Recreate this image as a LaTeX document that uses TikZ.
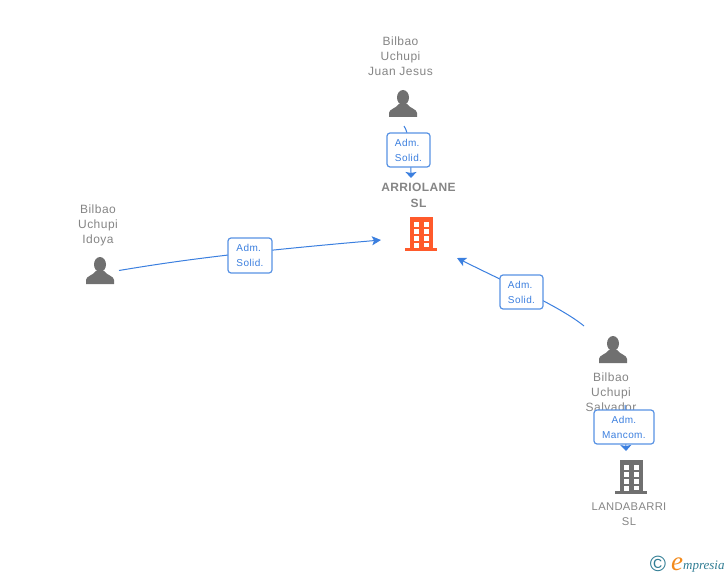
\documentclass[tikz,border=0pt]{standalone}
\usepackage{fontspec}
\setmainfont{Liberation Sans}
\newfontfamily\logofont{Liberation Serif}
\usetikzlibrary{arrows.meta,calc}
\definecolor{linkblue}{HTML}{3B7FDF}
\definecolor{namegray}{HTML}{858585}
\definecolor{icongray}{HTML}{707070}
\definecolor{iconorange}{HTML}{FF5A2B}
\definecolor{logoteal}{HTML}{2F7C93}
\definecolor{logoorange}{HTML}{F28A1C}
\tikzset{
    nametext/.style={text=namegray, font=\fontsize{12}{15}\selectfont\addfontfeatures{LetterSpace=4}, align=center, inner sep=0pt},
    firmtext/.style={nametext, font=\fontsize{12}{16}\selectfont\bfseries\addfontfeatures{LetterSpace=3}},
    rolebox/.style={draw=linkblue!85, fill=white, line width=1.2pt, rounded corners=3pt, text=linkblue,
        font=\fontsize{10}{15}\selectfont\addfontfeatures{LetterSpace=4}, inner sep=0pt},
    link/.style={draw=linkblue, line width=1pt, -{Stealth[length=9pt,width=9pt,inset=2pt]}},
    flatlink/.style={link, -{Stealth[length=6pt,width=11pt,inset=1pt]}},
    iconspot/.style={circle, inner sep=0pt, minimum size=#1}
}
\newcommand{\persona}[1]{
    \fill[icongray] ($(#1)+(0,-6.5)$) ellipse (6 and 7.5);
    \fill[icongray] ($(#1)+(-14,13)$) -- ($(#1)+(-14,9)$) .. controls ($(#1)+(-14,5)$) and ($(#1)+(-7,4.5)$) .. ($(#1)+(-4,0)$) -- ($(#1)+(4,0)$) .. controls ($(#1)+(7,4.5)$) and ($(#1)+(14,5)$) .. ($(#1)+(14,9)$) -- ($(#1)+(14,13)$) -- cycle;
}
\newcommand{\edificio}[2]{
    \fill[#2] ($(#1)+(-11,-17)$) rectangle ($(#1)+(12,14)$);
    \fill[#2] ($(#1)+(-16,14)$) rectangle ($(#1)+(16,17)$);
    \foreach \wy in {-12,-5,2} {
        \fill[white] ($(#1)+(-7,\wy)$) rectangle ($(#1)+(-2.5,\wy+4.6)$);
        \fill[white] ($(#1)+(2.5,\wy)$) rectangle ($(#1)+(7.5,\wy+4.6)$);
    }
    \fill[white] ($(#1)+(-7,8.5)$) rectangle ($(#1)+(-2.5,14)$);
    \fill[white] ($(#1)+(2.5,8.5)$) rectangle ($(#1)+(7.5,12.5)$);
}
\begin{document}
\begin{tikzpicture}[x=1pt,y=-1pt]
    \useasboundingbox (0,0) rectangle (728,575);
    % icons
    \node[iconspot=38pt] (idoya) at (100,271) {};
    \node[iconspot=38pt] (juan) at (403,104) {};
    \node[iconspot=38pt] (salvador) at (613,350) {};
    \node[iconspot=64pt] (arriolane) at (421,234) {};
    \node[iconspot=64pt] (landabarri) at (631,477) {};
    \persona{idoya}
    \persona{juan}
    \persona{salvador}
    \edificio{arriolane}{iconorange}
    \edificio{landabarri}{icongray}
    % names
    \node[nametext] (idoyaname) at (98,225) {Bilbao\\Uchupi\\Idoya};
    \node[nametext] (juanname) at (400.5,56) {Bilbao\\Uchupi\\Juan Jesus};
    \node[nametext] (salvadorname) at (611,392) {Bilbao\\Uchupi\\Salvador};
    \node[firmtext] (arriolanename) at (418.5,195) {ARRIOLANE\\SL};
    \node[nametext, font=\fontsize{11.2}{15}\selectfont\addfontfeatures{LetterSpace=3}] (landabarriname) at (629,514) {LANDABARRI\\SL};
    % free ends of the links
    \coordinate (juanout) at (404,126);
    \coordinate (arriolanetop) at (411,178);
    \coordinate (idoyaout) at (119,270.5);
    \coordinate (arriolaneleft) at (381,240);
    \coordinate (salvadorout) at (584,326);
    \coordinate (arriolaneright) at (457,258);
    \coordinate (salvadorlow) at (625,405);
    \coordinate (landabarritop) at (626,451);
    % links
    \draw[flatlink] (juanout) .. controls (409,132) and (411,160) .. (arriolanetop);
    \draw[link] (idoyaout) .. controls (170,262) and (230,253) .. (arriolaneleft);
    \draw[link] (salvadorout) .. controls (561,307) and (505,282) .. (arriolaneright);
    \draw[flatlink] (salvadorlow) -- (landabarritop);
    % roles
    \node[rolebox, align=left, minimum width=43pt, minimum height=34pt] (rolejuan) at (408.5,150) {Adm.\\Solid.};
    \node[rolebox, align=left, minimum width=44pt, minimum height=35pt] (roleidoya) at (250,255.5) {Adm.\\Solid.};
    \node[rolebox, align=left, minimum width=43pt, minimum height=34pt] (rolesalvador) at (521.5,292) {Adm.\\Solid.};
    \node[rolebox, align=center, minimum width=60pt, minimum height=34pt] (rolemancom) at (624,427) {Adm.\\Mancom.};
    % logo
    \node[inner sep=0pt, text=logoteal, font=\fontsize{22}{22}\selectfont] (copyr) at (658,564) {©};
    \node[anchor=base west, inner sep=0pt, text=logoorange, font=\logofont\itshape\fontsize{27}{27}\selectfont] (logoe) at (671,570) {e};
    \node[anchor=base west, inner sep=0pt, text=logoteal, font=\logofont\itshape\fontsize{13}{14}\selectfont] (logotext) at (683,569) {mpresia};
\end{tikzpicture}
\end{document}
